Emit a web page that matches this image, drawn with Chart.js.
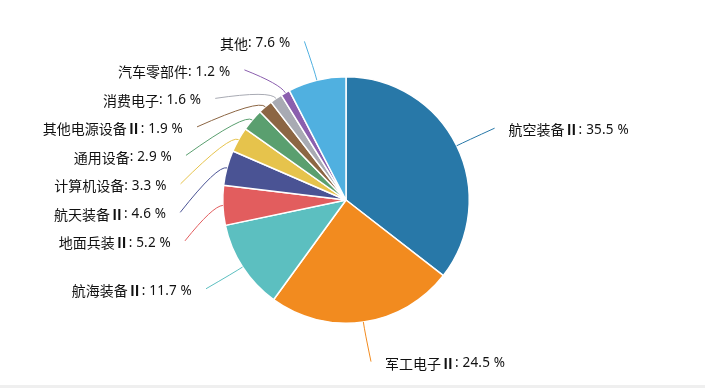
<!DOCTYPE html>
<html>
<head>
<meta charset="utf-8">
<script src="https://cdn.jsdelivr.net/npm/chart.js@4.4.1/dist/chart.umd.min.js"></script>
<style>
  html, body { margin: 0; padding: 0; background: #fff; }
  #wrap { position: relative; width: 705px; height: 388px; }
  #strip { position: absolute; left: 0; bottom: 0; width: 705px; height: 3px; background: #efefef; }
  canvas { position: absolute; left: 0; top: 0; }
</style>
</head>
<body>
<div id="wrap">
  <canvas id="c" width="705" height="388"></canvas>
  <div id="strip"></div>
</div>
<script>
const categories = ['航空装备Ⅱ', '军工电子Ⅱ', '航海装备Ⅱ', '地面兵装Ⅱ', '航天装备Ⅱ', '计算机设备', '通用设备', '其他电源设备Ⅱ', '消费电子', '汽车零部件', '其他'];
const shares = [35.5, 24.5, 11.7, 5.2, 4.6, 3.3, 2.9, 1.9, 1.6, 1.2, 7.6];
const colors = ['#2878a8', '#f28b1f', '#5cbfc0', '#e25d5e', '#4a5394', '#e6c34c', '#5a9f6f', '#8c6644', '#a8aab3', '#8b5fae', '#50b0e0'];

const FONT_CJK = '14px "Noto Sans CJK SC", "Noto Sans", sans-serif';
const FONT_ROMAN = 'bold 14px "Noto Sans CJK SC", "Noto Sans", sans-serif';
const FONT_NUM = '13.5px "Noto Sans", "Noto Sans CJK SC", sans-serif';

function labelSegments(i) {
  const name = categories[i];
  const segs = [];
  if (name.endsWith('Ⅱ')) {
    segs.push({ t: name.slice(0, -1), f: FONT_CJK, ls: '0px' });
    segs.push({ t: 'Ⅱ', f: FONT_ROMAN, ls: '0px' });
  } else {
    segs.push({ t: name, f: FONT_CJK, ls: '0px' });
  }
  segs.push({ t: ': ' + shares[i].toFixed(1) + ' %', f: FONT_NUM, ls: '0.2px' });
  return segs;
}

const outerLabels = {
  id: 'outerLabels',
  afterDatasetsDraw(chart) {
    const ctx = chart.ctx;
    const meta = chart.getDatasetMeta(0);
    const len1 = 10, R_OFF = 40, SPACING = 28.5;
    const items = meta.data.map((arc, i) => {
      const cx = arc.x, cy = arc.y, r = arc.outerRadius;
      const mid = (arc.startAngle + arc.endAngle) / 2;
      const R = r + R_OFF;
      return {
        i, cx, cy, r, R, mid,
        ax: cx + r * Math.cos(mid), ay: cy + r * Math.sin(mid),
        ex: cx + (r + len1) * Math.cos(mid), ey: cy + (r + len1) * Math.sin(mid),
        nx: cx + R * Math.cos(mid), ny: cy + R * Math.sin(mid),
        left: Math.cos(mid) < 0
      };
    });
    [true, false].forEach(side => {
      const list = items.filter(it => it.left === side).sort((a, b) => a.ny - b.ny);
      let prev = -Infinity;
      list.forEach(it => {
        it.y = Math.max(it.ny, prev + SPACING);
        if (Math.abs(it.y - it.ny) > 0.5) {
          const dy = it.y - it.cy;
          const h = Math.sqrt(Math.max(0, it.R * it.R - dy * dy));
          it.x = side ? it.cx - h : it.cx + h;
        } else {
          it.x = it.nx;
        }
        prev = it.y;
      });
    });
    ctx.save();
    ctx.textBaseline = 'middle';
    ctx.textAlign = 'left';
    items.forEach(it => {
      const px = it.left ? it.x - 3 : it.x + 2;
      const py = it.y;
      ctx.beginPath();
      ctx.strokeStyle = colors[it.i];
      ctx.lineWidth = 1;
      ctx.moveTo(px, py);
      ctx.quadraticCurveTo(it.ex, it.ey, it.ax, it.ay);
      ctx.stroke();
      const segs = labelSegments(it.i);
      let total = 0;
      segs.forEach(s => { ctx.font = s.f; ctx.letterSpacing = s.ls; s.w = ctx.measureText(s.t).width; total += s.w; });
      let x = it.left ? it.x - 17 - total : it.x + 16;
      ctx.fillStyle = '#111';
      segs.forEach(s => {
        ctx.font = s.f; ctx.letterSpacing = s.ls;
        ctx.fillText(s.t, x, py + 2);
        x += s.w;
      });
    });
    ctx.restore();
  }
};

new Chart(document.getElementById('c'), {
  type: 'pie',
  data: {
    labels: categories,
    datasets: [{
      data: shares,
      backgroundColor: colors,
      borderColor: '#ffffff',
      borderWidth: 1.5
    }]
  },
  options: {
    responsive: false,
    animation: false,
    layout: { padding: { left: 222, right: 235, top: 76, bottom: 64 } },
    plugins: {
      legend: { display: false },
      tooltip: { enabled: false }
    }
  },
  plugins: [outerLabels]
});
</script>
</body>
</html>
